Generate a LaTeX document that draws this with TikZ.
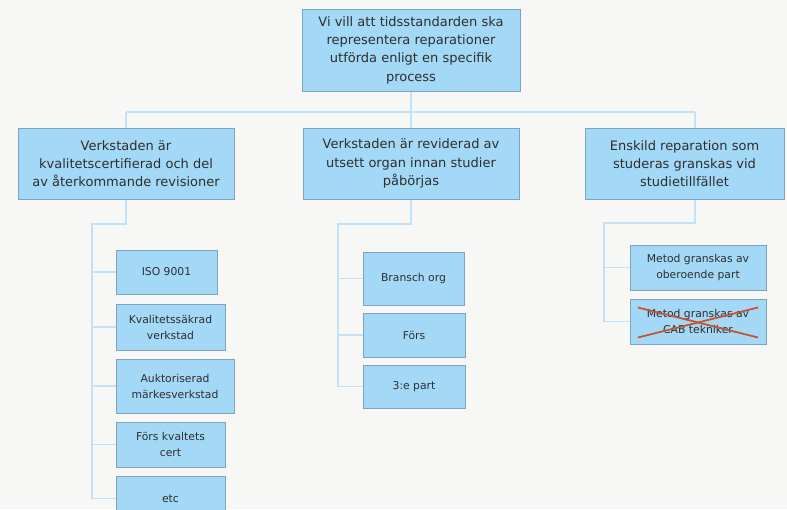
\documentclass[tikz,border=0pt]{standalone}
\usepackage{fontspec}
\setmainfont{DejaVu Sans}
\definecolor{bgcol}{HTML}{F7F7F5}
\definecolor{boxfill}{HTML}{A3D9F7}
\definecolor{boxline}{HTML}{7FA5BE}
\definecolor{linkcol}{HTML}{C4E2F5}
\definecolor{txtcol}{HTML}{2E2E2E}
\definecolor{crosscol}{HTML}{C7532F}
\tikzset{
  box/.style={draw=boxline, fill=boxfill, line width=1pt, text=txtcol,
    align=center, inner sep=0pt, font=\fontsize{13}{18.3}\selectfont},
  subbox/.style={box, font=\fontsize{10.8}{16}\selectfont},
  link/.style={draw=linkcol, line width=1.2pt}
}
\begin{document}
\begin{tikzpicture}[x=1pt,y=-1pt]
      \useasboundingbox (0,0) rectangle (787,509);
      \fill[bgcol] (0,0) rectangle (787,509);
      % branch points of the tree
      \coordinate (tl) at (126,112);
      \coordinate (tr) at (695,112);
      \coordinate (ls) at (92,224);
      \coordinate (ms) at (338,224);
      \coordinate (rs) at (604,223);
      \coordinate (rb) at (695,200);
      \draw
        (411,50) node[box, minimum width=218, minimum height=82] (goal)
          {Vi vill att tidsstandarden ska\\representera reparationer\\utförda enligt en specifik\\process}
        (126,163.5) node[box, minimum width=216, minimum height=71] (cert)
          {Verkstaden är\\kvalitetscertifierad och del\\av återkommande revisioner}
        (411,163.5) node[box, minimum width=216, minimum height=71] (rev)
          {Verkstaden är reviderad av\\utsett organ innan studier\\påbörjas}
        (684.5,163.5) node[box, minimum width=199, minimum height=71] (rep)
          {Enskild reparation som\\studeras granskas vid\\studietillfället};
      \draw
        (166.5,272) node[subbox, minimum width=101, minimum height=44] (iso) {ISO 9001}
        (170.5,327) node[subbox, minimum width=109, minimum height=46] (kval) {Kvalitetssäkrad\\verkstad}
        (175,386) node[subbox, minimum width=118, minimum height=54] (auk) {Auktoriserad\\märkesverkstad}
        (170.5,444.5) node[subbox, minimum width=109, minimum height=45] (fkc) {Förs kvaltets\\cert}
        (170.5,498.5) node[subbox, minimum width=109, minimum height=45] (etc) {etc};
      \draw
        (413.5,278.5) node[subbox, minimum width=101, minimum height=53] (bra) {Bransch org}
        (414,335) node[subbox, minimum width=102, minimum height=44] (fors) {Förs}
        (414,386.5) node[subbox, minimum width=102, minimum height=43] (tre) {3:e part};
      \draw
        (698,267.5) node[subbox, minimum width=136, minimum height=45] (obe) {Metod granskas av\\oberoende part}
        (698,321.5) node[subbox, minimum width=136, minimum height=45] (cab) {Metod granskas av\\CAB tekniker};
      \begin{scope}[link]
        \draw (goal.south) -- (goal.south |- tl);
        \draw (tl) -- (tr);
        \draw (tl) -- (cert.north);
        \draw (goal.south |- tl) -- (rev.north);
        \draw (tr) -- (tr |- rep.north);
        \draw (cert.south) |- (ls) -- (ls |- etc.west);
        \draw (ls |- iso.west) -- (iso.west);
        \draw (ls |- kval.west) -- (kval.west);
        \draw (ls |- auk.west) -- (auk.west);
        \draw (ls |- fkc.west) -- (fkc.west);
        \draw (ls |- etc.west) -- (etc.west);
        \draw (rev.south) |- (ms) -- (ms |- tre.west);
        \draw (ms |- bra.west) -- (bra.west);
        \draw (ms |- fors.west) -- (fors.west);
        \draw (ms |- tre.west) -- (tre.west);
        \draw (rb) |- (rs) -- (rs |- cab.west);
        \draw (rs |- obe.west) -- (obe.west);
        \draw (rs |- cab.west) -- (cab.west);
      \end{scope}
      \begin{scope}[crosscol, line width=1.8pt]
        \draw ([shift={(-60,-14)}]cab.center) -- ([shift={(60,16)}]cab.center);
        \draw ([shift={(-60,16)}]cab.center) -- ([shift={(60,-14)}]cab.center);
      \end{scope}
    \end{tikzpicture}
\end{document}
